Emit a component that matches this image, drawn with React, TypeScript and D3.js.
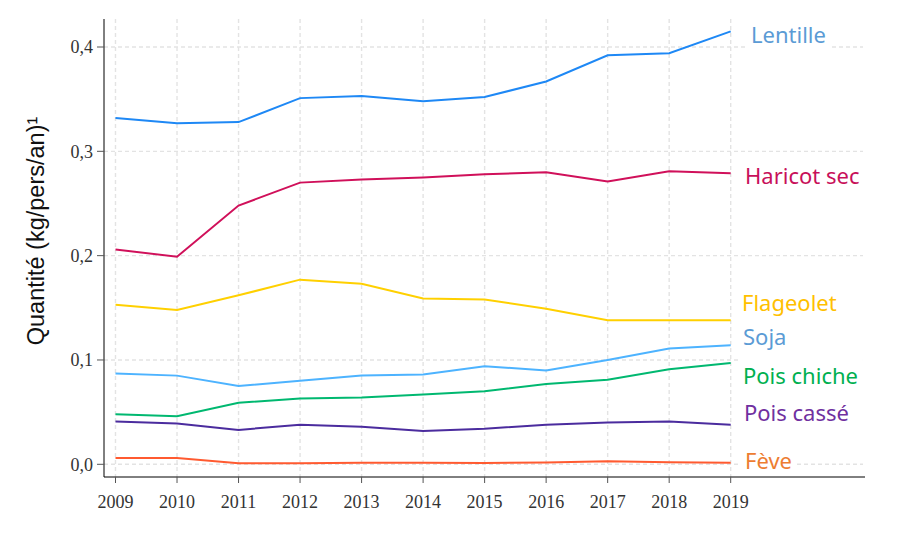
import * as d3 from "d3";
import React, { useEffect, useRef } from "react";

const years = [2009, 2010, 2011, 2012, 2013, 2014, 2015, 2016, 2017, 2018, 2019];
const yTicks = [0, 0.1, 0.2, 0.3, 0.4];

const lentille = [0.332, 0.327, 0.328, 0.351, 0.353, 0.348, 0.352, 0.367, 0.392, 0.394, 0.415];
const haricotSec = [0.206, 0.199, 0.248, 0.270, 0.273, 0.275, 0.278, 0.280, 0.271, 0.281, 0.279];
const flageolet = [0.153, 0.148, 0.162, 0.177, 0.173, 0.159, 0.158, 0.149, 0.138, 0.138, 0.138];
const soja = [0.087, 0.085, 0.075, 0.080, 0.085, 0.086, 0.094, 0.090, 0.100, 0.111, 0.114];
const poisChiche = [0.048, 0.046, 0.059, 0.063, 0.064, 0.067, 0.070, 0.077, 0.081, 0.091, 0.097];
const poisCasse = [0.041, 0.039, 0.033, 0.038, 0.036, 0.032, 0.034, 0.038, 0.040, 0.041, 0.038];
const feve = [0.006, 0.006, 0.001, 0.001, 0.0015, 0.0015, 0.0012, 0.0018, 0.0029, 0.002, 0.0015];

const series = [
  { name: "Lentille", values: lentille, line: "#1e88f5", text: "#5b9bd5", labelY: 35, labelX: 751 },
  { name: "Haricot sec", values: haricotSec, line: "#d0105a", text: "#c8105a", labelY: 176, labelX: 745 },
  { name: "Flageolet", values: flageolet, line: "#ffd000", text: "#ffc000", labelY: 303, labelX: 742 },
  { name: "Soja", values: soja, line: "#4db3ff", text: "#5b9bd5", labelY: 337, labelX: 743 },
  { name: "Pois chiche", values: poisChiche, line: "#00b870", text: "#00b050", labelY: 376, labelX: 743 },
  { name: "Pois cassé", values: poisCasse, line: "#4b2c9e", text: "#7030a0", labelY: 413, labelX: 744 },
  { name: "Fève", values: feve, line: "#ff5a30", text: "#ed7d31", labelY: 461, labelX: 745 },
];

export default function App() {
  const ref = useRef<SVGSVGElement>(null);

  useEffect(() => {
    const svg = d3.select(ref.current);
    svg.selectAll("*").remove();

    const x = d3.scaleLinear().domain([2009, 2019]).range([115.5, 730.7]);
    const y = d3.scaleLinear().domain([0, 0.4]).range([464.3, 47]);
    const left = 104, right = 865, top = 19, bottom = 477;

    // grid
    const grid = svg.append("g")
      .attr("stroke", "#e3e3e3")
      .attr("stroke-width", 1.4)
      .attr("stroke-dasharray", "4,3");
    grid.selectAll("line.h").data(yTicks).enter().append("line")
      .attr("x1", left).attr("x2", right - 2)
      .attr("y1", (d) => y(d)).attr("y2", (d) => y(d));
    grid.selectAll("line.v").data(years).enter().append("line")
      .attr("x1", (d) => x(d)).attr("x2", (d) => x(d))
      .attr("y1", top).attr("y2", bottom);

    const line = d3.line<number>()
      .x((_, i) => x(years[i]))
      .y((d) => y(d));

    svg.append("g").selectAll("path").data(series).enter().append("path")
      .attr("d", (d) => line(d.values))
      .attr("fill", "none")
      .attr("stroke", (d) => d.line)
      .attr("stroke-width", 2);

    // labels with white boxes
    const labels = svg.append("g");
    series.forEach((s) => {
      const g = labels.append("g");
      const t = g.append("text")
        .attr("x", s.labelX)
        .attr("y", s.labelY)
        .attr("dy", "0.35em")
        .attr("fill", s.text)
        .style("font-family", "'Noto Sans', sans-serif")
        .style("font-size", "22px")
        .text(s.name);
      const bb = (t.node() as SVGTextElement).getBBox();
      g.insert("rect", "text")
        .attr("x", bb.x - 5)
        .attr("y", bb.y - 1)
        .attr("width", bb.width + 10)
        .attr("height", bb.height + 2)
        .attr("fill", "#fff");
    });

    // axes
    svg.append("line").attr("x1", left).attr("x2", left).attr("y1", top).attr("y2", bottom)
      .attr("stroke", "#000").attr("stroke-width", 1);
    svg.append("line").attr("x1", left).attr("x2", right).attr("y1", bottom).attr("y2", bottom)
      .attr("stroke", "#000").attr("stroke-width", 1);

    const fmt = (d: number) => d.toFixed(1).replace(".", ",");
    const yt = svg.append("g");
    yTicks.forEach((d) => {
      yt.append("line").attr("x1", left - 7).attr("x2", left).attr("y1", y(d)).attr("y2", y(d))
        .attr("stroke", "#555").attr("stroke-width", 1);
      yt.append("text").attr("x", left - 11).attr("y", y(d)).attr("dy", "0.35em")
        .attr("text-anchor", "end")
        .attr("fill", "#333")
        .style("font-family", "'Liberation Serif', serif")
        .style("font-size", "18px")
        .text(fmt(d));
    });
    const xt = svg.append("g");
    years.forEach((d) => {
      xt.append("line").attr("x1", x(d)).attr("x2", x(d)).attr("y1", bottom).attr("y2", bottom + 6)
        .attr("stroke", "#555").attr("stroke-width", 1);
      xt.append("text").attr("x", x(d)).attr("y", 508)
        .attr("text-anchor", "middle")
        .attr("fill", "#333")
        .style("font-family", "'Liberation Serif', serif")
        .style("font-size", "18px")
        .text(d);
    });

    svg.append("text")
      .attr("transform", "translate(44, 231) rotate(-90)")
      .attr("text-anchor", "middle")
      .attr("fill", "#111")
      .style("font-family", "'Liberation Sans', Arial, sans-serif")
      .style("font-size", "23.5px")
      .text("Quantité (kg/pers/an)¹");
  }, []);

  return (
    <div style={{ position: "absolute", left: 0, top: 0 }}>
      <svg ref={ref} width={914} height={541} style={{ display: "block", background: "#fff" }} />
    </div>
  );
}
